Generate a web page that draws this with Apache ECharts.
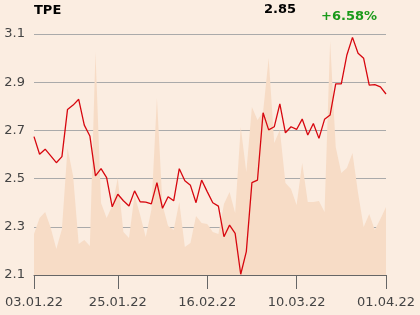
<!DOCTYPE html>
<html>
<head>
<meta charset="utf-8">
<script src="https://cdn.jsdelivr.net/npm/echarts@6/dist/echarts.min.js"></script>
<style>html,body{margin:0;padding:0;background:#FBEDE1;}#c{width:420px;height:315px;}</style>
</head>
<body>
<div id="c"></div>
<script>
var symbol = "TPE";
var lastPrice = "2.85";
var change = "+6.58%";
var tickIndex = [0, 15, 31, 47, 63];
var tickLabels = ["03.01.22", "25.01.22", "16.02.22", "10.03.22", "01.04.22"];
var yTicks = [2.1, 2.3, 2.5, 2.7, 2.9, 3.1];
var prices = [2.674, 2.601, 2.622, 2.594, 2.566, 2.591, 2.787, 2.805, 2.829, 2.722,
  2.677, 2.511, 2.541, 2.504, 2.383, 2.435, 2.408, 2.386, 2.449, 2.404,
  2.402, 2.395, 2.483, 2.377, 2.425, 2.408, 2.541, 2.491, 2.472, 2.400,
  2.494, 2.446, 2.400, 2.386, 2.259, 2.307, 2.273, 2.103, 2.197, 2.483,
  2.494, 2.773, 2.702, 2.715, 2.810, 2.690, 2.715, 2.704, 2.747, 2.681,
  2.729, 2.667, 2.746, 2.764, 2.893, 2.893, 3.013, 3.086, 3.020, 2.999,
  2.888, 2.890, 2.881, 2.851];
var volumes = [41, 57, 63, 47, 26, 46, 127, 99, 31, 35,
  29, 223, 72, 57, 69, 97, 43, 37, 80, 60,
  38, 65, 177, 70, 49, 45, 73, 28, 32, 59,
  52, 51, 43, 41, 71, 83, 62, 148, 103, 168,
  155, 163, 217, 132, 145, 92, 86, 70, 112, 73,
  73, 74, 63, 234, 128, 102, 107, 122, 82, 48,
  61, 45, 56, 68];

var cats = prices.map(function (_, i) { return String(i); });
function isTick(i) { return tickIndex.indexOf(i) >= 0; }

var chart = echarts.init(document.getElementById('c'), null, {renderer: 'canvas'});
chart.setOption({
  backgroundColor: '#FBEDE1',
  animation: false,
  textStyle: {fontFamily: 'DejaVu Sans'},
  grid: {left: 34, right: 34, top: 34, bottom: 40},
  graphic: [
    {type: 'text', left: 34, top: 4, style: {text: symbol, font: 'bold 13px DejaVu Sans', fill: '#000'}},
    {type: 'text', left: 264, top: 3, style: {text: lastPrice, font: 'bold 13px DejaVu Sans', fill: '#000'}},
    {type: 'text', left: 321, top: 10, style: {text: change, font: 'bold 13px DejaVu Sans', fill: '#1a9a1a'}}
  ],
  xAxis: {
    type: 'category',
    data: cats,
    boundaryGap: false,
    axisLine: {show: true, lineStyle: {color: '#666', width: 1}},
    axisTick: {show: true, length: 14, lineStyle: {color: '#666'}, interval: function (i) { return isTick(i); }},
    axisLabel: {
      interval: function (i) { return isTick(i); },
      formatter: function (v, i) { var k = tickIndex.indexOf(i); return k >= 0 ? tickLabels[k] : ''; },
      color: '#444', fontSize: 13, fontFamily: 'DejaVu Sans', margin: 21
    },
    splitLine: {show: false}
  },
  yAxis: [
    {
      type: 'value', position: 'left', min: yTicks[0], max: yTicks[yTicks.length - 1], interval: 0.2,
      axisLine: {show: false}, axisTick: {show: false},
      axisLabel: {color: '#444', fontSize: 13, fontFamily: 'DejaVu Sans', margin: 9,
        formatter: function (v) { return v.toFixed(1); }},
      splitLine: {show: true, lineStyle: {color: '#aaa', width: 1}}
    },
    {
      type: 'value', position: 'right', min: 0, max: 241, show: false,
      splitLine: {show: false}
    }
  ],
  series: [
    {
      type: 'line', yAxisIndex: 1, data: volumes, showSymbol: false, symbol: 'none',
      lineStyle: {width: 0}, areaStyle: {color: '#F7DCC6', opacity: 1}, z: 1, silent: true
    },
    {
      type: 'line', yAxisIndex: 0, data: prices, showSymbol: false, symbol: 'none',
      lineStyle: {color: '#D7070F', width: 1.3}, z: 3, silent: true
    }
  ]
});
</script>
</body>
</html>
